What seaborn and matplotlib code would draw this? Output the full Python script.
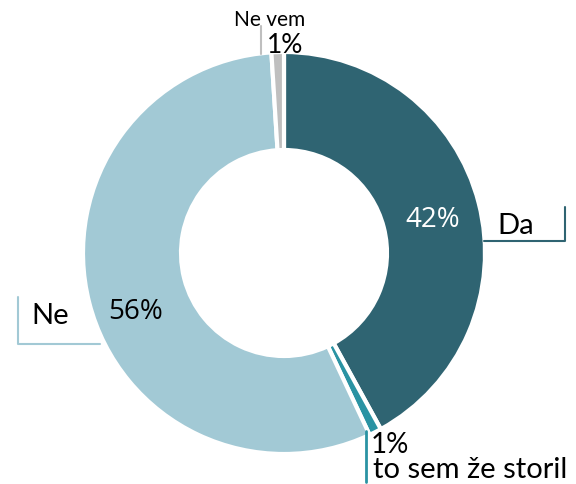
import matplotlib
matplotlib.use("Agg")
import matplotlib.pyplot as plt
import seaborn as sns

labels = ["Da", "to sem že storil", "Ne", "Ne vem"]
values = [42, 1, 56, 1]
pct_labels = ["42%", "1%", "56%", "1%"]
colors = ["#2F6472", "#2A93A3", "#A2C9D5", "#BFBFBF"]

sns.set_theme(style="white")
plt.rcParams['font.family'] = ['DejaVu Sans']

W, H = 576, 485
fig = plt.figure(figsize=(W / 100, H / 100), dpi=100)
ax = fig.add_axes([0, 0, 1, 1])

cx, cy, R = 284, H - 254, 201

def Y(y):
    return H - y

ax.pie(values, colors=colors, startangle=90, counterclock=False,
       center=(cx, cy), radius=R, frame=True,
       wedgeprops=dict(width=98, edgecolor='white', linewidth=3))
ax.set_xlim(0, W)
ax.set_ylim(0, H)
ax.set_aspect('equal')
ax.axis('off')

lab_font = 'Lato'
# inner percentage labels
ax.text(433, Y(220), pct_labels[0], color='white', fontsize=20, family='Open Sans',
        ha='center', va='center')
ax.text(136, Y(312), pct_labels[2], color='black', fontsize=20, family='Open Sans',
        ha='center', va='center')

# Da callout
ax.plot([484, 565, 565], [Y(242), Y(242), Y(208)], color=colors[0], lw=1.5)
ax.text(497, Y(234), labels[0], fontsize=21, family=lab_font, ha='left', va='baseline', color='black')

# Ne callout
ax.plot([100, 18, 18], [Y(345), Y(345), Y(298)], color=colors[2], lw=1.5)
ax.text(31, Y(324), labels[2], fontsize=21, family=lab_font, ha='left', va='baseline', color='black')

# to sem že storil
ax.plot([366, 366], [Y(432), Y(483)], color=colors[1], lw=2)
ax.text(371, Y(453), pct_labels[1], fontsize=20, family=lab_font, ha='left', va='baseline', color='black')
ax.text(373, Y(478), labels[1], fontsize=21, family=lab_font, ha='left', va='baseline', color='black')

# Ne vem
ax.plot([261, 261], [Y(27), Y(55)], color=colors[3], lw=1.5)
ax.text(270, Y(26), labels[3], fontsize=15, family=lab_font, ha='center', va='baseline', color='black')
ax.text(285, Y(53), pct_labels[3], fontsize=19, family=lab_font, ha='center', va='baseline', color='black')

fig.savefig('out.png', dpi=100)
